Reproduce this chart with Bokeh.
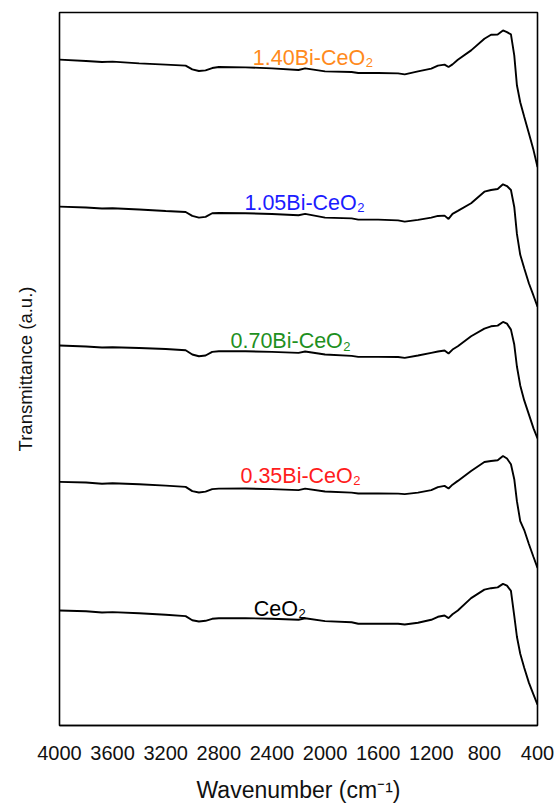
from bokeh.plotting import figure
from bokeh.models import Range1d, FixedTicker, Label, ColumnDataSource
from bokeh.embed import file_html
from bokeh.resources import INLINE

# ---------------- data ----------------
wavenumber = [4000, 3800, 3680, 3600, 3400, 3200, 3050, 3000, 2950, 2900, 2850, 2800,
              2600, 2400, 2200, 2150, 2000, 1800, 1750, 1600, 1450, 1400, 1300, 1200,
              1150, 1100, 1070, 1040, 1000, 900, 800, 750, 700, 660, 630, 600, 575,
              555, 530, 500, 465, 430, 400]

t_140 = [667.7, 666.3, 665.3, 665.7, 664, 662.7, 661.7, 658, 656.3, 657, 659.3, 660.3,
         660, 659, 657.3, 659, 656, 655.3, 654.3, 654.3, 654, 653, 656, 658.7,
         661.7, 662.7, 660.3, 663, 667.7, 677, 688.7, 692.7, 693, 697, 695.3, 693, 672,
         642, 625, 610.5, 594, 577, 560]
t_105 = [520.3, 519.5, 518.5, 518.7, 517.5, 516, 515, 511, 509.3, 510, 513.7, 514,
         513.7, 513, 511.7, 513, 509.3, 508.5, 507.3, 507.3, 506.5, 505.3, 507, 509.3,
         511, 511.3, 508, 513, 516, 523.7, 535.3, 537, 538, 542.7, 541, 537, 520,
         493, 472, 458.5, 443.5, 431, 420]
t_070 = [381, 380, 379, 379.3, 378.5, 377.5, 376.3, 372, 370.3, 371, 374.7, 375.3,
         375.3, 374.7, 373.7, 375, 372, 370.7, 369.7, 369.7, 369.5, 368.7, 371, 373.7,
         375, 376, 373, 377, 380.3, 390.3, 398, 400.3, 401, 404.7, 403, 397, 382,
         360, 341, 326, 312, 298, 288]
t_035 = [244.3, 243.7, 242.5, 243, 242, 240.5, 239.3, 235, 233.7, 234.5, 237, 237.5,
         237.7, 237, 236, 237.5, 234.7, 233.5, 232.7, 232.7, 232.5, 232, 233.5, 236,
         239, 240.3, 237.7, 241.5, 245.3, 255.3, 264.3, 265.3, 266, 270.3, 267.7, 262, 247,
         225, 205, 196, 182, 169, 158]
t_ceo2 = [115.3, 114.5, 113.3, 113.7, 112.5, 111, 109.7, 105.5, 104.3, 105, 107, 107.5,
          107.7, 107, 106, 107.5, 104.7, 103.5, 102, 102, 102, 101.3, 103, 106,
          109, 110.3, 107.7, 111.5, 115.3, 127.7, 136.3, 137.7, 138.5, 142, 140.3, 135, 110,
          89, 72, 58, 43, 31, 21]

series_names = ["1.40Bi-CeO", "1.05Bi-CeO", "0.70Bi-CeO", "0.35Bi-CeO", "CeO"]
series_values = [t_140, t_105, t_070, t_035, t_ceo2]
label_colors = ["#ff8a1c", "#1c1cff", "#1e901e", "#ff1c1c", "#000000"]

x_ticks = [4000, 3600, 3200, 2800, 2400, 2000, 1600, 1200, 800, 400]

# ---------------- figure ----------------
FONT = "Liberation Sans"
p = figure(width=555, height=805, output_backend="svg", toolbar_location=None,
           x_range=Range1d(4000, 400), y_range=Range1d(0, 715),
           min_border_left=59, min_border_right=18, min_border_top=12,
           min_border_bottom=78)
p.background_fill_color = "white"
p.border_fill_color = "white"
p.outline_line_color = "black"
p.outline_line_width = 1.6
p.xgrid.visible = False
p.ygrid.visible = False

ax = p.xaxis[0]
ax.ticker = FixedTicker(ticks=x_ticks)
ax.major_tick_line_color = None
ax.minor_tick_line_color = None
ax.major_tick_out = 0
ax.major_tick_in = 0
ax.axis_line_color = "black"
ax.axis_line_width = 1.6
ax.major_label_text_font = FONT
ax.major_label_text_font_size = "20px"
ax.major_label_text_color = "#111111"
ax.major_label_standoff = 20
ax.axis_label = "Wavenumber (cm\u207b\u00b9)"
ax.axis_label_text_font = FONT
ax.axis_label_text_font_size = "23px"
ax.axis_label_text_font_style = "normal"
ax.axis_label_text_color = "#111111"
ax.axis_label_standoff = 14

ay = p.yaxis[0]
ay.ticker = FixedTicker(ticks=[])
ay.major_tick_line_color = None
ay.minor_tick_line_color = None
ay.major_tick_out = 0
ay.major_tick_in = 0
ay.major_label_standoff = 0
ay.axis_line_color = None
ay.axis_label = "Transmittance (a.u.)"
ay.axis_label_text_font = FONT
ay.axis_label_text_font_size = "18.5px"
ay.axis_label_text_font_style = "normal"
ay.axis_label_text_color = "#111111"
ay.axis_label_standoff = 24

for vals in series_values:
    src = ColumnDataSource(dict(x=wavenumber, y=vals))
    p.line("x", "y", source=src, line_color="black", line_width=1.9)

# sample labels: (left x in cm-1, baseline y in a.u.)
label_pos = [(2544, 669.7), (2607, 524.3), (2712, 385.3), (2637, 250.3), (2537, 117.0)]
MAIN_SIZE = 21.5
SUB_SIZE = 13
widths = {"0": .556, "1": .556, "3": .556, "4": .556, "5": .556, "7": .556,
          ".": .278, "B": .667, "i": .222, "-": .333, "C": .722, "e": .556,
          "O": .778}
for name, col, (lx, ly) in zip(series_names, label_colors, label_pos):
    p.add_layout(Label(x=lx, y=ly, text=name, text_color=col, text_font=FONT,
                       text_font_size=f"{MAIN_SIZE}px", text_align="left",
                       text_baseline="alphabetic"))
    w = sum(widths[c] for c in name) * MAIN_SIZE
    p.add_layout(Label(x=lx, y=ly, x_offset=w + 0.5, y_offset=-5, text="2",
                       text_color=col, text_font=FONT, text_font_size=f"{SUB_SIZE}px",
                       text_align="left", text_baseline="alphabetic"))

open("out.html", "w").write(file_html(p, INLINE))
